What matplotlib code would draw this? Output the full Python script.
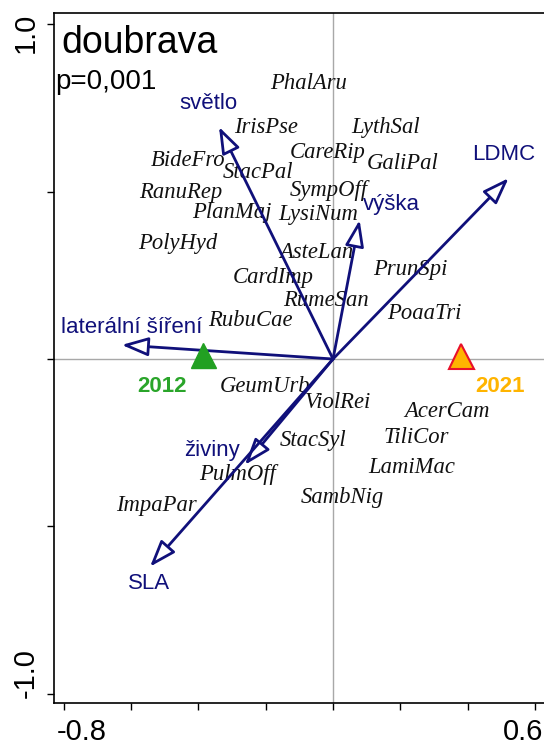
#!/usr/bin/env python3
"""Ordination biplot (doubrava): trait arrows, species scores and year centroids."""

import matplotlib
matplotlib.use("Agg")
import matplotlib.pyplot as plt
from matplotlib.transforms import ScaledTranslation

# species scores (label centres)
species = ["PhalAru", "IrisPse", "LythSal", "CareRip", "GaliPal", "BideFro", "StacPal",
           "RanuRep", "SympOff", "PlanMaj", "LysiNum", "PolyHyd", "AsteLan", "PrunSpi",
           "CardImp", "RumeSan", "PoaaTri", "RubuCae", "GeumUrb", "ViolRei", "AcerCam",
           "StacSyl", "TiliCor", "PulmOff", "LamiMac", "SambNig", "ImpaPar"]
species_x = [-0.074, -0.199, 0.155, -0.015, 0.206, -0.431, -0.223,
             -0.452, -0.012, -0.300, -0.045, -0.461, -0.050, 0.229,
             -0.178, -0.021, 0.271, -0.247, -0.202, 0.015, 0.339,
             -0.059, 0.247, -0.285, 0.235, 0.027, -0.526]
species_y = [0.824, 0.690, 0.690, 0.618, 0.585, 0.594, 0.558,
             0.498, 0.504, 0.436, 0.430, 0.346, 0.319, 0.266,
             0.242, 0.176, 0.137, 0.116, -0.081, -0.131, -0.158,
             -0.242, -0.233, -0.346, -0.325, -0.412, -0.436]

# trait arrows (tips) and their labels
traits = ["světlo", "výška", "LDMC", "laterální šíření", "živiny", "SLA"]
trait_x = [-0.339, 0.079, 0.522, -0.628, -0.262, -0.544]
trait_y = [0.693, 0.415, 0.540, 0.042, -0.316, -0.620]
trait_lab_x = [-0.369, 0.175, 0.508, -0.598, -0.360, -0.547]
trait_lab_y = [0.764, 0.460, 0.612, 0.093, -0.272, -0.669]

# year centroids
years = ["2012", "2021"]
year_x = [-0.386, 0.381]
year_y = [0.012, 0.010]
year_lab_x = [-0.508, 0.496]
year_lab_y = [-0.081, -0.081]

NAVY = "#10107a"
SANS = ["Liberation Sans", "DejaVu Sans"]
SERIF = ["Liberation Serif", "DejaVu Serif"]

fig = plt.figure(figsize=(5.44, 7.46), dpi=100)
ax = fig.add_axes([54 / 544, 1 - 703 / 746, 494 / 544, 690 / 746])
ax.set_xlim(-0.8294, 0.639)
ax.set_ylim(-1.027, 1.033)

ax.axhline(0, color="#a8a8a8", lw=1, zorder=1)
ax.axvline(0, color="#a8a8a8", lw=1, zorder=1)

for tx, ty in zip(trait_x, trait_y):
    ax.annotate("", xy=(tx, ty), xytext=(0, 0),
                arrowprops=dict(arrowstyle="-|>,head_length=0.9,head_width=0.32",
                                mutation_scale=18, lw=2.0, ec=NAVY, fc="white",
                                shrinkA=0, shrinkB=0), zorder=3)
for name, lx, ly in zip(traits, trait_lab_x, trait_lab_y):
    ax.text(lx, ly, name, color=NAVY, fontsize=16, family=SANS,
            ha="center", va="center", zorder=4)

for name, sx, sy in zip(species, species_x, species_y):
    ax.text(sx, sy, name, color="#111111", fontsize=16.3, family=SERIF, style="italic",
            ha="center", va="center", zorder=2)

ax.plot(year_x[0], year_y[0], "^", ms=18, mfc="#22a022", mec="#22a022", mew=1, zorder=5)
ax.plot(year_x[1], year_y[1], "^", ms=18, mfc="#ffb300", mec="#e8102a", mew=1.5, zorder=5)
for name, lx, ly, c in zip(years, year_lab_x, year_lab_y, ["#2aa52a", "#ffb400"]):
    ax.text(lx, ly, name, color=c, fontsize=16, family=SANS, fontweight="bold",
            ha="center", va="center")

ax.text(-0.806, 0.913, "doubrava", fontsize=27, family=SANS, va="baseline", ha="left")
ax.text(-0.826, 0.806, "p=0,001", fontsize=20, family=SANS, va="baseline", ha="left")

# frame: left, bottom, top
ax.spines["right"].set_visible(False)
for s in ("left", "bottom", "top"):
    ax.spines[s].set_linewidth(1.2)

xt = [-0.8, -0.6, -0.4, -0.2, 0.0, 0.2, 0.4, 0.6]
yt = [-1.0, -0.5, 0.0, 0.5, 1.0]
ax.set_xticks(xt)
ax.set_xticklabels(["-0.8"] + [""] * 6 + ["0.6"])
ax.set_yticks(yt)
ax.set_yticklabels(["-1.0", "", "", "", "1.0"])
ax.tick_params(direction="out", length=5, width=1, labelsize=21)
ax.tick_params(axis="x", pad=6)
ax.tick_params(axis="y", pad=5)
for lab in ax.get_xticklabels() + ax.get_yticklabels():
    lab.set_family(SANS)
for lab in ax.get_yticklabels():
    lab.set_rotation(90)
    lab.set_va("center")

xl = ax.get_xticklabels()
xl[0].set_transform(xl[0].get_transform() + ScaledTranslation(0.18, 0, fig.dpi_scale_trans))
xl[-1].set_transform(xl[-1].get_transform() + ScaledTranslation(-0.12, 0, fig.dpi_scale_trans))
yl = ax.get_yticklabels()
yl[0].set_transform(yl[0].get_transform() + ScaledTranslation(0, 0.21, fig.dpi_scale_trans))
yl[-1].set_transform(yl[-1].get_transform() + ScaledTranslation(0, -0.09, fig.dpi_scale_trans))

fig.savefig("out.png", dpi=100)
